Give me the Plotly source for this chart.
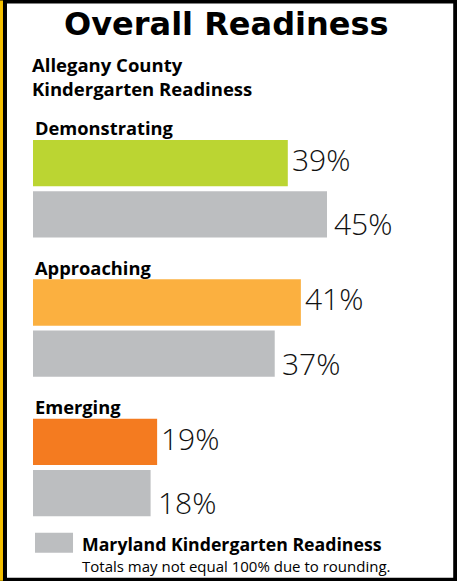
import plotly.graph_objects as go

# Gögn / data
categories = ["Demonstrating", "Approaching", "Emerging"]
county_values = [39, 41, 19]
maryland_values = [45, 37, 18]
county_colors = ["#BBD532", "#FBB040", "#F47B20"]
maryland_color = "#BCBEC0"

W, H = 457, 581
ML, MR, MT, MB = 33, 32.2, 118.75, 37.75
PW, PH = W - ML - MR, H - MT - MB


# pixel -> paper helpers for decorations
def px(x):
    return (x - ML) / PW


def py(y):
    return (H - MB - y) / PH


FONT = "Open Sans"

fig = go.Figure()
fig.add_trace(go.Bar(
    y=categories, x=county_values, orientation="h",
    marker=dict(color=county_colors, line=dict(width=0)),
    name="Allegany County", hoverinfo="skip",
))
fig.add_trace(go.Bar(
    y=categories, x=maryland_values, orientation="h",
    marker=dict(color=maryland_color, line=dict(width=0)),
    name="Maryland Kindergarten Readiness", hoverinfo="skip",
))

annotations = []
# value labels
for cat, cv, mv in zip(categories, county_values, maryland_values):
    annotations.append(dict(
        x=cv, y=cat, xref="x", yref="y", text=f"{cv}%", showarrow=False,
        xanchor="left", yanchor="middle", xshift=2, yshift=29.5,
        font=dict(family=FONT, size=30, color="#111", weight=300),
    ))
    annotations.append(dict(
        x=mv, y=cat, xref="x", yref="y", text=f"{mv}%", showarrow=False,
        xanchor="left", yanchor="middle", xshift=5, yshift=-35,
        font=dict(family=FONT, size=30, color="#111", weight=300),
    ))
    # category heading above each group
    annotations.append(dict(
        x=0, y=cat, xref="x", yref="y", text=f"<b>{cat}</b>", showarrow=False,
        xanchor="left", yanchor="middle", xshift=0, yshift=61,
        font=dict(family=FONT, size=18.3, color="#000"),
    ))

# title & subtitles
annotations += [
    dict(x=px(226), y=py(24), xref="paper", yref="paper", text="<b>Overall Readiness</b>",
         showarrow=False, xanchor="center", yanchor="middle",
         font=dict(family="DejaVu Sans", size=32, color="#000")),
    dict(x=px(30), y=py(64), xref="paper", yref="paper", text="<b>Allegany County</b>",
         showarrow=False, xanchor="left", yanchor="middle",
         font=dict(family=FONT, size=18.5, color="#000")),
    dict(x=px(30), y=py(88), xref="paper", yref="paper", text="<b>Kindergarten Readiness</b>",
         showarrow=False, xanchor="left", yanchor="middle",
         font=dict(family=FONT, size=18.5, color="#000")),
    dict(x=px(80), y=py(544), xref="paper", yref="paper", text="<b>Maryland Kindergarten Readiness</b>",
         showarrow=False, xanchor="left", yanchor="middle",
         font=dict(family=FONT, size=17.7, color="#000")),
    dict(x=px(80), y=py(566), xref="paper", yref="paper", text="Totals may not equal 100% due to rounding.",
         showarrow=False, xanchor="left", yanchor="middle",
         font=dict(family=FONT, size=15, color="#000")),
]

shapes = [
    # yellow strip on the left
    dict(type="rect", xref="paper", yref="paper", layer="below",
         x0=px(0), x1=px(3), y0=py(H), y1=py(0), fillcolor="#F5C000", line=dict(width=0)),
    # white card inside black frame
    dict(type="rect", xref="paper", yref="paper", layer="below",
         x0=px(7), x1=px(453), y0=py(578), y1=py(3), fillcolor="white", line=dict(width=0)),
    # legend swatch
    dict(type="rect", xref="paper", yref="paper",
         x0=px(35), x1=px(73), y0=py(553), y1=py(533), fillcolor=maryland_color, line=dict(width=0)),
]

fig.update_layout(
    width=W, height=H,
    margin=dict(l=ML, r=MR, t=MT, b=MB),
    paper_bgcolor="black", plot_bgcolor="white",
    barmode="group", bargap=0.265, bargroupgap=0.096,
    showlegend=False,
    xaxis=dict(range=[0, 60], visible=False, fixedrange=True),
    yaxis=dict(autorange="reversed", visible=False, fixedrange=True),
    annotations=annotations, shapes=shapes,
)

# drop the default body margin so the figure sits at the window's top-left
fig.write_html("out.html", config={"displayModeBar": False},
               post_script="document.body.style.margin='0';")
